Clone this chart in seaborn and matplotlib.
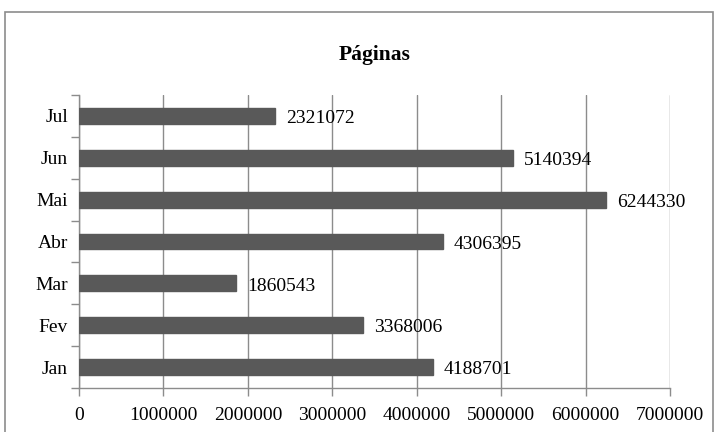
import matplotlib.pyplot as plt
import pandas as pd
import seaborn as sns
from matplotlib.patches import Rectangle

# Data
months = ["Jan", "Fev", "Mar", "Abr", "Mai", "Jun", "Jul"]
pages = [4188701, 3368006, 1860543, 4306395, 6244330, 5140394, 2321072]
x_ticks = [0, 1000000, 2000000, 3000000, 4000000, 5000000, 6000000, 7000000]

df = pd.DataFrame({"Mes": months, "Paginas": pages})

sns.set_theme(style="white")
plt.rcParams["font.family"] = ["Liberation Serif", "DejaVu Serif"]
plt.rcParams["text.color"] = "black"
plt.rcParams["xtick.labelcolor"] = "black"
plt.rcParams["ytick.labelcolor"] = "black"

fig = plt.figure(figsize=(7.21, 4.32), dpi=100)
ax = fig.add_axes([79 / 721, 1 - 388 / 432, (670 - 79) / 721, (388 - 95) / 432])

# outer chart border (Excel style)
fig.patches.append(Rectangle((5 / 721, -0.05), 708 / 721, 1 - 12 / 432 + 0.05,
                             transform=fig.transFigure, fill=False,
                             edgecolor="#8c8c8c", linewidth=1.2))

sns.barplot(data=df, x="Paginas", y="Mes", order=months[::-1], orient="h",
            color="#595959", saturation=1, width=0.38, ax=ax, zorder=3,
            edgecolor="#595959")

for m, v in zip(months, pages):
    ax.annotate(str(v), xy=(v, months[::-1].index(m)), xytext=(8, -2),
                textcoords="offset points", ha="left", va="center",
                fontsize=14, color="black")

ax.set_xlim(0, 7000000)
ax.set_xticks(x_ticks)
ax.set_xticklabels([str(t) for t in x_ticks], fontsize=14)
ax.set_yticklabels(months[::-1], fontsize=14)
ax.set_xlabel("")
ax.set_ylabel("")
ax.xaxis.grid(True, color="#8c8c8c", linewidth=1.0, zorder=0)
ax.yaxis.grid(False)
ax.set_axisbelow(True)

for side in ["top", "right"]:
    ax.spines[side].set_visible(False)
for side in ["left", "bottom"]:
    ax.spines[side].set_color("#8c8c8c")
    ax.spines[side].set_linewidth(1.0)

# category separator ticks on left, value ticks on bottom
ax.set_yticks([i - 0.5 for i in range(8)], minor=True)
ax.tick_params(axis="y", which="major", length=0, pad=8)
ax.tick_params(axis="y", which="minor", left=True, length=6, color="#8c8c8c", width=1.0)
ax.tick_params(axis="x", which="major", bottom=True, length=6, color="#8c8c8c", width=1.0, pad=8)
ax.set_ylim(6.5, -0.5)

fig.text((79 + 670) / 2 / 721, 1 - 55 / 432, "Páginas", ha="center", va="center",
         fontsize=15.5, fontweight="bold")

fig.savefig("out.png", dpi=100)
